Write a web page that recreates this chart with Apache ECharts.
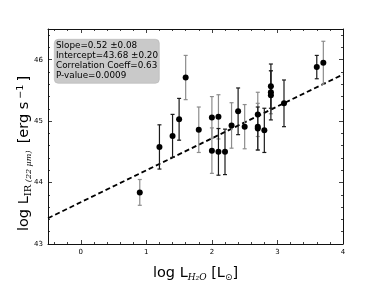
<!DOCTYPE html>
<html><head><meta charset="utf-8">
<script src="https://cdn.jsdelivr.net/npm/echarts@6/dist/echarts.min.js"></script>
<style>html,body{margin:0;padding:0;background:#fff}#c{width:382px;height:287px}</style>
</head><body><div id="c"></div>
<script>
// Data: [log L_H2O, log L_IR, error]
var blackBarPoints = [
  [1.2, 44.58, 0.36], [1.4, 44.76, 0.35], [1.5, 45.03, 0.34], [2.1, 44.50, 0.38],
  [2.2, 44.50, 0.37], [2.4, 45.16, 0.38], [2.7, 44.88, 0.35], [2.8, 44.85, 0.36],
  [2.9, 45.57, 0.36], [2.9, 45.42, 0.40], [3.1, 45.29, 0.38], [3.6, 45.88, 0.19]
];
var grayBarPoints = [
  [0.9, 43.84, 0.21], [1.6, 45.71, 0.36], [1.8, 44.86, 0.37], [2.0, 45.06, 0.34],
  [2.0, 44.52, 0.37], [2.1, 45.07, 0.36], [2.3, 44.93, 0.37], [2.5, 44.91, 0.36],
  [2.7, 45.11, 0.36], [2.7, 44.91, 0.38], [2.9, 45.47, 0.35], [3.7, 45.95, 0.35]
];
var fitX = [-0.5, 4];
var fitY = [43.42, 45.76];
var xTicks = [0, 1, 2, 3, 4];
var yTicks = [43, 44, 45, 46];
var statsText = ['Slope=0.52 \u00b10.08', 'Intercept=43.68 \u00b10.20', 'Correlation Coeff=0.63', 'P-value=0.0009'];

function minors(lo, hi, step) {
  var out = [];
  for (var v = lo; v <= hi + 1e-9; v += step) {
    var r = Math.round(v * 10) / 10;
    if (Math.abs(r - Math.round(r)) > 1e-6) out.push(r);
  }
  return out;
}
var xMinor = minors(-0.4, 3.8, 0.2);
var yMinor = minors(43.2, 46.4, 0.2);

var XMIN = -0.5, XMAX = 4, YMIN = 43, YMAX = 46.5;
var lineCol = '#111';

function xAx(pos, vals, len, showLine, showLabel, extra) {
  var a = {
    type: 'value', position: pos, min: XMIN, max: XMAX,
    axisLine: {show: showLine, onZero: false, lineStyle: {color: lineCol, width: 1}},
    axisTick: {show: true, inside: true, length: len, customValues: vals, lineStyle: {color: lineCol, width: 0.8}},
    axisLabel: {show: showLabel, customValues: vals, fontSize: 7, color: '#000', fontFamily: 'DejaVu Sans', margin: 5},
    splitLine: {show: false}
  };
  return Object.assign(a, extra || {});
}
function yAx(pos, vals, len, showLine, showLabel, extra) {
  var a = {
    type: 'value', position: pos, min: YMIN, max: YMAX,
    axisLine: {show: showLine, onZero: false, lineStyle: {color: lineCol, width: 1}},
    axisTick: {show: true, inside: true, length: len, customValues: vals, lineStyle: {color: lineCol, width: 0.8}},
    axisLabel: {show: showLabel, customValues: vals, fontSize: 7, color: '#000', fontFamily: 'DejaVu Sans', margin: 5},
    splitLine: {show: false}
  };
  return Object.assign(a, extra || {});
}

function errRender(color) {
  return function (params, api) {
    var x = api.value(0), y = api.value(1), e = api.value(2);
    var top = api.coord([x, y + e]);
    var bot = api.coord([x, y - e]);
    var hw = 2;
    var st = {stroke: color, lineWidth: 1.2};
    return {
      type: 'group',
      children: [
        {type: 'line', shape: {x1: top[0], y1: top[1], x2: bot[0], y2: bot[1]}, style: st},
        {type: 'line', shape: {x1: top[0] - hw, y1: top[1], x2: top[0] + hw, y2: top[1]}, style: st},
        {type: 'line', shape: {x1: bot[0] - hw, y1: bot[1], x2: bot[0] + hw, y2: bot[1]}, style: st}
      ]
    };
  };
}

var chart = echarts.init(document.getElementById('c'), null, {renderer: 'canvas'});
var allPts = blackBarPoints.concat(grayBarPoints);
chart.setOption({
  animation: false,
  backgroundColor: '#fff',
  grid: {left: 48, right: 39, top: 29, bottom: 29},
  xAxis: [
    xAx('bottom', xTicks, 4, true, true, {
      name: '{a|log L}{s|H\u2082O}{a| [L}{o|\u2299}{a|]}',
      nameLocation: 'middle', nameGap: 21,
      nameTextStyle: {
        rich: {
          a: {fontSize: 14.5, fontFamily: 'DejaVu Sans', color: '#000', lineHeight: 17},
          s: {fontSize: 9, fontFamily: 'DejaVu Serif', fontStyle: 'italic', color: '#000', verticalAlign: 'bottom', lineHeight: 9},
          o: {fontSize: 9, fontFamily: 'DejaVu Sans', color: '#000', verticalAlign: 'bottom', lineHeight: 9}
        }
      }
    }),
    xAx('bottom', xMinor, 2, false, false),
    xAx('top', xTicks, 4, true, false),
    xAx('top', xMinor, 2, false, false)
  ],
  yAxis: [
    yAx('left', yTicks, 4, true, true, {
      name: '{a|log L}{s|IR}{t| (22 \u03bcm) }{a| [erg s}{p| \u22121 }{a|]}{g| }',
      nameLocation: 'middle', nameGap: 15, nameRotate: 90, nameMoveOverlap: false,
      nameTextStyle: {
        rich: {
          a: {fontSize: 14.5, fontFamily: 'DejaVu Sans', color: '#000', lineHeight: 17},
          s: {fontSize: 10, fontFamily: 'DejaVu Serif', color: '#000', verticalAlign: 'bottom', lineHeight: 9},
          t: {fontSize: 8, fontFamily: 'DejaVu Serif', fontStyle: 'italic', color: '#000', verticalAlign: 'bottom', lineHeight: 8},
          p: {fontSize: 9.5, fontFamily: 'DejaVu Sans', color: '#000', verticalAlign: 'top', lineHeight: 9},
          g: {width: 34, fontSize: 10, color: 'rgba(0,0,0,0)', lineHeight: 9}
        }
      }
    }),
    yAx('left', yMinor, 2, false, false),
    yAx('right', yTicks, 4, true, false),
    yAx('right', yMinor, 2, false, false)
  ],
  series: [
    {type: 'line', data: fitX.map(function (x, i) { return [x, fitY[i]]; }), symbol: 'none',
     lineStyle: {color: '#000', width: 1.8, type: [5, 3]}, z: 1},
    {type: 'custom', data: grayBarPoints, renderItem: errRender('#8c8c8c'), z: 2},
    {type: 'custom', data: blackBarPoints, renderItem: errRender('#1a1a1a'), z: 3},
    {type: 'scatter', data: allPts.map(function (p) { return [p[0], p[1]]; }), symbol: 'circle', symbolSize: 6,
     itemStyle: {color: '#000', opacity: 1}, z: 4}
  ],
  graphic: [
    {type: 'rect', left: 54, top: 39, shape: {width: 105, height: 44, r: 4},
     style: {fill: '#c9c9c9', stroke: '#b5b5b5', lineWidth: 0.6}, z: 10},
    {type: 'text', left: 56, top: 41, z: 11,
     style: {text: statsText.join('\n'), fontSize: 8.8, lineHeight: 10, fontFamily: 'DejaVu Sans', fill: '#000'}}
  ]
});
</script></body></html>
